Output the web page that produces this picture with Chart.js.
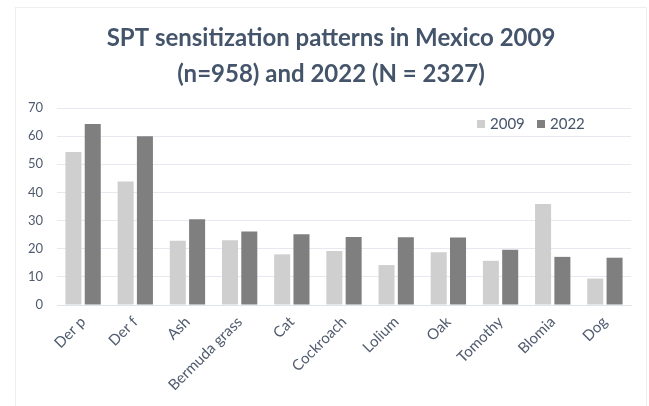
<!DOCTYPE html>
<html>
<head>
<meta charset="utf-8">
<script src="https://cdn.jsdelivr.net/npm/chart.js@4.4.1/dist/chart.umd.min.js"></script>
<style>
html,body{margin:0;padding:0;background:#fff;}
#wrap{width:649px;height:406px;position:relative;}
</style>
</head>
<body>
<div id="wrap"><canvas id="c" width="649" height="406"></canvas></div>
<script>
const categories = ["Der p","Der f","Ash","Bermuda grass","Cat","Cockroach","Lolium","Oak","Tomothy","Blomia","Dog"];
const values2009 = [54.4, 43.9, 22.8, 23.0, 18.0, 19.2, 14.2, 18.7, 15.7, 35.9, 9.4];
const values2022 = [64.3, 60.0, 30.5, 26.1, 25.1, 24.2, 24.1, 24.0, 19.6, 17.1, 16.8];
const seriesLabels = ["2009","2022"];
const titleLines = ["SPT sensitization patterns in Mexico 2009","(n=958) and 2022 (N = 2327)"];

const FONT = "Lato, 'Open Sans', sans-serif";
const TXT = "#505b6e";

const frame = {
  id: 'frame',
  beforeDraw(chart){
    const ctx = chart.ctx;
    ctx.save();
    ctx.strokeStyle = '#eceef2';
    ctx.lineWidth = 1;
    ctx.strokeRect(15.5, 7.5, 631, 420);
    ctx.restore();
  }
};

const legendInArea = {
  id: 'legendInArea',
  afterDraw(chart){
    const ctx = chart.ctx;
    const a = chart.chartArea;
    ctx.save();
    ctx.font = "15px " + FONT;
    ctx.textBaseline = 'middle';
    ctx.textAlign = 'left';
    let x = a.right - 154;
    const y = a.top + 16;
    chart.data.datasets.forEach((ds) => {
      ctx.fillStyle = ds.backgroundColor;
      ctx.fillRect(x, y - 4, 8, 8);
      ctx.fillStyle = '#44546a';
      ctx.fillText(ds.label, x + 13, y);
      x += 60;
    });
    ctx.restore();
  }
};

new Chart(document.getElementById('c'), {
  type: 'bar',
  data: {
    labels: categories,
    datasets: [
      { label: seriesLabels[0], data: values2009, backgroundColor: '#d0cfcf', borderWidth: 0 },
      { label: seriesLabels[1], data: values2022, backgroundColor: '#7f7f7f', borderWidth: 0 }
    ]
  },
  options: {
    responsive: false,
    animation: false,
    devicePixelRatio: 1,
    layout: { padding: { left: 17, right: 4, top: 0, bottom: 0 } },
    datasets: { bar: { categoryPercentage: 0.74, barPercentage: 0.83 } },
    plugins: {
      legend: { display: false },
      tooltip: { enabled: false },
      title: {
        display: true,
        text: titleLines,
        color: '#44546a',
        font: { family: FONT, size: 24, weight: 'bold', lineHeight: 1.5 },
        padding: { top: 20, bottom: 16 }
      }
    },
    scales: {
      x: {
        grid: { display: false, drawTicks: false },
        border: { display: true, color: '#dfe3ea', width: 1 },
        ticks: {
          color: TXT,
          font: { family: FONT, size: 15 },
          minRotation: 45, maxRotation: 45,
          padding: 8,
          autoSkip: false
        },
        afterFit(scale){ scale.paddingLeft = 0; scale.paddingRight = 18; scale.height = 101; }
      },
      y: {
        min: 0, max: 70,
        grid: { color: '#e6e9ef', drawTicks: false },
        border: { display: false },
        ticks: {
          stepSize: 10,
          color: TXT,
          font: { family: FONT, size: 13 },
          padding: 14
        },
        afterFit(scale){ scale.width = 40; scale.paddingTop = 0; scale.paddingBottom = 0; }
      }
    }
  },
  plugins: [frame, legendInArea]
});
</script>
</body>
</html>
